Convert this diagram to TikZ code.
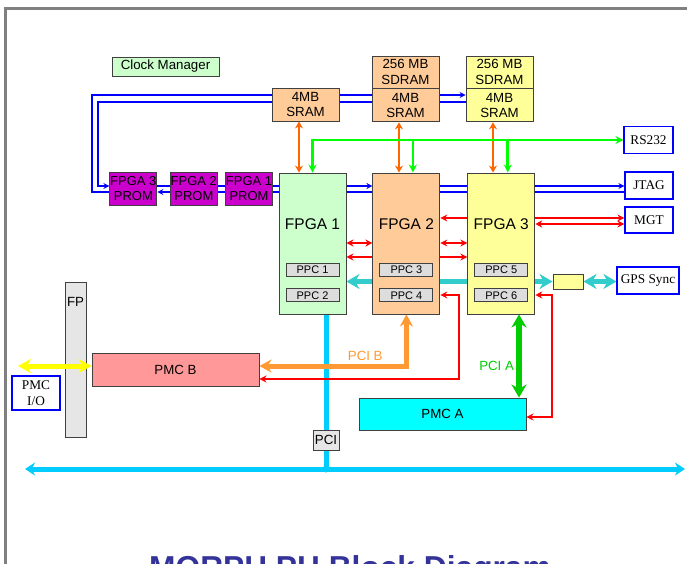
\documentclass[tikz,border=0pt]{standalone}
\usepackage{fontspec}
\setmainfont{Liberation Sans}
\newfontfamily\serifbox{Liberation Serif}
\usepackage{tikz}
\usetikzlibrary{arrows.meta, positioning, calc, backgrounds}
\definecolor{edgegray}{RGB}{64,64,64}
\definecolor{framegray}{RGB}{128,128,128}
\definecolor{fpgagreen}{RGB}{204,255,204}
\definecolor{sdrampeach}{RGB}{255,204,153}
\definecolor{fpgayellow}{RGB}{255,255,153}
\definecolor{prommagenta}{RGB}{204,0,204}
\definecolor{ppcgray}{RGB}{221,221,221}
\definecolor{fpgray}{RGB}{230,230,230}
\definecolor{pmcred}{RGB}{255,153,153}
\definecolor{pmccyan}{RGB}{0,255,255}
\definecolor{extblue}{RGB}{0,0,255}
\definecolor{jtagblue}{RGB}{0,0,255}
\definecolor{memorange}{RGB}{255,102,0}
\definecolor{ctrlgreen}{RGB}{0,255,0}
\definecolor{sigred}{RGB}{255,0,0}
\definecolor{pciborange}{RGB}{255,153,51}
\definecolor{pciagreen}{RGB}{0,204,0}
\definecolor{gpsteal}{RGB}{51,204,204}
\definecolor{buscyan}{RGB}{0,204,255}
\definecolor{fpyellow}{RGB}{255,255,0}
\definecolor{titleblue}{RGB}{51,51,153}

\begin{document}
\begin{tikzpicture}[
  x=1pt, y=-1pt,
  every node/.style={font=\fontsize{13.3}{15.5}\selectfont, inner sep=0pt},
  blk/.style={draw=edgegray, line width=0.9pt, align=center},
  mem/.style={blk, minimum width=67pt, minimum height=33pt},
  fpga/.style={blk, minimum width=67pt, minimum height=141pt},
  fpgatxt/.style={font=\fontsize{15.5}{18}\selectfont},
  ppc/.style={blk, fill=ppcgray, minimum width=53pt, minimum height=13pt,
    font=\fontsize{11}{12}\selectfont},
  prom/.style={blk, fill=prommagenta, minimum width=46pt, minimum height=33pt,
    font=\fontsize{13}{15.5}\selectfont},
  ext/.style={draw=extblue, line width=1.2pt, fill=white, align=center,
    minimum height=27pt, font=\serifbox\fontsize{13.3}{15.5}\selectfont},
  pmc/.style={blk, minimum width=167pt, minimum height=33pt},
  jtagline/.style={draw=jtagblue, line width=2.2pt, >={Stealth[length=6pt, width=6pt]}},
  memline/.style={draw=memorange, line width=2.6pt, >={Stealth[length=7pt, width=8pt]}},
  ctrlline/.style={draw=ctrlgreen, line width=2.8pt, >={Stealth[length=8pt, width=8pt]}},
  redline/.style={draw=sigred, line width=2.2pt, >={Stealth[length=7pt, width=7pt]}},
  pcibline/.style={draw=pciborange, line width=5pt, >={Stealth[length=12pt, width=13pt]}},
  pcialine/.style={draw=pciagreen, line width=6pt, >={Stealth[length=13pt, width=15pt]}},
  gpsline/.style={draw=gpsteal, line width=5pt, >={Stealth[length=13pt, width=15pt]}},
  fpline/.style={draw=fpyellow, line width=5pt, >={Stealth[length=13pt, width=14pt]}},
  busline/.style={draw=buscyan, line width=5pt, >={Stealth[length=10pt, width=13pt]}},
  frame/.style={draw=framegray, line width=3pt}
]
  \useasboundingbox (0,0) rectangle (687,564);

  % Cornice
  \draw[frame] (5.5,564) -- (5.5,8.5) -- (687,8.5);

  % Memorie
  \node[blk, fill=fpgagreen, minimum width=107pt, minimum height=19pt] (clock) at (165.5,66.5) {Clock Manager};
  \node[mem, fill=sdrampeach] (sram1) at (305.5,104.5) {4MB\\SRAM};
  \node[mem, fill=sdrampeach, minimum height=32pt] (sdram2) at (405.5,72) {256 MB\\SDRAM};
  \node[mem, fill=sdrampeach, below=0pt of sdram2] (sram2) {4MB\\SRAM};
  \node[mem, fill=fpgayellow, minimum height=32pt] (sdram3) at (499.5,72) {256 MB\\SDRAM};
  \node[mem, fill=fpgayellow, below=0pt of sdram3] (sram3) {4MB\\SRAM};

  % FPGA e PPC
  \node[fpga, fill=fpgagreen] (fpga1) at (312.5,243.5) {};
  \node[fpga, fill=sdrampeach, right=26pt of fpga1] (fpga2) {};
  \node[fpga, fill=fpgayellow, right=27pt of fpga2] (fpga3) {};
  \node[fpgatxt] (fpga1txt) at ($(fpga1.north)+(0,52)$) {FPGA 1};
  \node[fpgatxt] (fpga2txt) at ($(fpga2.north)+(0,52)$) {FPGA 2};
  \node[fpgatxt] (fpga3txt) at ($(fpga3.north)+(0,52)$) {FPGA 3};
  \node[ppc] (ppc1) at ($(fpga1.center)+(0,26)$) {PPC 1};
  \node[ppc, below=12pt of ppc1] (ppc2) {PPC 2};
  \node[ppc] (ppc3) at ($(fpga2.center)+(0,26)$) {PPC 3};
  \node[ppc, below=12pt of ppc3] (ppc4) {PPC 4};
  \node[ppc] (ppc5) at ($(fpga3.center)+(0,26)$) {PPC 5};
  \node[ppc, below=12pt of ppc5] (ppc6) {PPC 6};

  % PROM
  \node[prom] (prom1) at (249,188.5) {FPGA 1\\PROM};
  \node[prom, left=8pt of prom1] (prom2) {FPGA 2\\PROM};
  \node[prom, left=13pt of prom2, minimum width=47pt] (prom3) {FPGA 3\\PROM};

  % Interfacce esterne
  \node[ext, minimum width=49pt] (rs232) at (648.5,140) {RS232};
  \node[ext, minimum width=48pt] (jtag) at (649,185.5) {JTAG};
  \node[ext, minimum width=48pt, minimum height=26pt] (mgt) at (649,220) {MGT};
  \node[ext, minimum width=62pt] (gps) at (648,280.5) {GPS Sync};
  \node[blk, fill=fpgayellow, minimum width=30pt, minimum height=15pt] (gpsbox) at (568,281.5) {};
  \node[ext, minimum width=48pt, minimum height=34pt] (pmcio) at (36,393) {PMC\\I/O};

  % PMC, FP, PCI
  \node[blk, fill=fpgray, minimum width=21pt, minimum height=155pt] (fp) at (75.5,359.5) {};
  \node (fptxt) at ($(fp.north)+(0,20.5)$) {FP};
  \node[pmc, fill=pmcred] (pmcb) at (175.5,369.5) {PMC B};
  \node[pmc, fill=pmccyan, minimum height=32pt] (pmca) at (442.5,414) {PMC A};
  \node[blk, fill=fpgray, minimum width=26pt, minimum height=20pt] (pcibox) at (326,440) {PCI};

  \node[font=\fontsize{31.7}{36}\selectfont\bfseries, text=titleblue, anchor=base] (title) at (350,578) {MORPH PH Block Diagram};

  % Coordinate di riferimento
  \coordinate (srU) at (0,95);
  \coordinate (srL) at (0,102);
  \coordinate (jtU) at (0,186);
  \coordinate (jtL) at (0,192);
  \coordinate (loopO) at (92,0);
  \coordinate (loopI) at (98,0);
  \coordinate (rA) at (0,243);
  \coordinate (rB) at (0,257);
  \coordinate (rC) at (0,218);
  \coordinate (rD) at (0,224);
  \coordinate (rE) at (0,295);
  \coordinate (rF) at (0,379);
  \coordinate (rG) at (0,417);
  \coordinate (rX2) at (459,0);
  \coordinate (rX3) at (552,0);
  \coordinate (pciBy) at (0,366);
  \coordinate (pciAx) at (519,0);
  \coordinate (m1) at ($(sram1.south)+(-6.5,0)$);
  \coordinate (m2) at ($(sram2.south)+(-6.5,0)$);
  \coordinate (m3) at ($(sram3.south)+(-6.5,0)$);
  \coordinate (g2) at ($(fpga2.north)+(6.5,0)$);
  \coordinate (g3) at ($(fpga3.north)+(6.5,0)$);
  \coordinate (fpout) at (18,366);
  \coordinate (busL) at (25,469);
  \coordinate (busR) at (685,469);

  \begin{scope}[on background layer]
    % Bus PCI
    \draw[busline, <->] (busL) -- (busR);
    \draw[busline] (fpga1.south -| pcibox) -- (pcibox |- busL);
    \fill[buscyan] (pcibox |- busL) circle (3.5pt);

    % Catena JTAG
    \draw[jtagline] (sram1.west |- srU) -| (loopO |- jtL) -- (prom3.west |- jtL);
    \draw[jtagline, ->] (sram1.west |- srL) -| (loopI |- jtU) -- (prom3.west |- jtU);
    \draw[jtagline, ->] (fpga1.west |- jtL) -- (prom3.east |- jtL);
    \draw[jtagline] (fpga1.west |- jtU) -- (prom3.east |- jtU);
    \draw[jtagline, ->] (fpga1.east |- jtU) -- (fpga2.west |- jtU);
    \draw[jtagline] (fpga2.east |- jtU) -- (fpga3.west |- jtU);
    \draw[jtagline, ->] (fpga3.east |- jtU) -- (jtag.west |- jtU);
    \draw[jtagline] (fpga1.east |- jtL) -- (jtag.west |- jtL);
    \draw[jtagline] (sram1.east |- srU) -- (sram2.west |- srU);
    \draw[jtagline, ->] (sram2.east |- srU) -- (sram3.west |- srU);
    \draw[jtagline] (sram1.east |- srL) -- (sram3.west |- srL);

    % SRAM <-> FPGA
    \draw[memline, <->] (m1) -- (m1 |- fpga1.north);
    \draw[memline, <->] (m2) -- (m2 |- fpga2.north);
    \draw[memline, <->] (m3) -- (m3 |- fpga3.north);

    % Linea verde RS232
    \draw[ctrlline, <->] (rs232.west) -| (fpga1.north);
    \draw[ctrlline, ->] (g2 |- rs232.west) -- (g2);
    \draw[ctrlline, ->] (g3 |- rs232.west) -- (g3);

    % Collegamenti tra FPGA
    \draw[redline, <->] (fpga1.east |- rA) -- (fpga2.west |- rA);
    \draw[redline, ->] (fpga2.west |- rB) -- (fpga1.east |- rB);
    \draw[redline, <->] (fpga2.east |- rA) -- (fpga3.west |- rA);
    \draw[redline, ->] (fpga2.east |- rB) -- (fpga3.west |- rB);
    \draw[redline, ->] (fpga3.west |- rC) -- (fpga2.east |- rC);
    \draw[redline, ->] (fpga3.east |- rC) -- (mgt.west |- rC);
    \draw[redline, <->] (fpga3.east |- rD) -- (mgt.west |- rD);
    \draw[redline, <->] (fpga2.east |- rE) -| (rX2 |- rF) -- (pmcb.east |- rF);
    \draw[redline, <->] (fpga3.east |- rE) -| (rX3 |- rG) -- (pmca.east |- rG);

    % GPS
    \draw[gpsline, <->] (gpsbox.west) -- (fpga1.east |- gpsbox.west);
    \draw[gpsline, <->] (gpsbox.east) -- (gps.west |- gpsbox.east);

    % PCI A e PCI B
    \draw[pcibline, <->] (fpga2.south) |- (pmcb.east |- pciBy)
      node[pos=0.64, above=3pt, text=pciborange] (pcibtxt) {PCI B};
    \draw[pcialine, <->] (fpga3.south -| pciAx) -- (pmca.north -| pciAx)
      node[pos=0.62, left=2pt, text=pciagreen] (pciatxt) {PCI A};
  \end{scope}

  % Uscita frontale
  \draw[fpline, <->] (fpout) -- (pmcb.west |- fpout);

\end{tikzpicture}
\end{document}
